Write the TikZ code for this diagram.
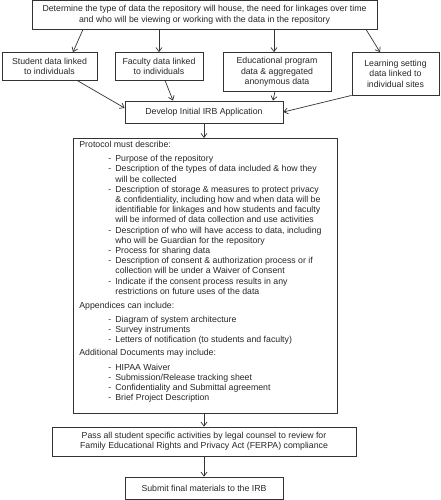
\documentclass[tikz,border=0pt]{standalone}
\usepackage{fontspec}
\setmainfont{Liberation Sans}
\usetikzlibrary{arrows.meta}
\newcommand\bitem[1]{\par\hangindent=36pt\hangafter=1\noindent\hspace*{29pt}\makebox[7pt][l]{-}#1}
\newcommand\phead[1]{\par\noindent #1}
\begin{document}
\begin{tikzpicture}[x=1pt,y=-1pt,
  box/.style={draw=black!80, line width=0.8pt, inner sep=0pt, align=center,
    font=\fontsize{8.75}{10.2}\selectfont, text=black!85},
  arr/.style={draw=black!80, line width=0.7pt, -{Straight Barb[length=4pt,width=6pt]}}]
\useasboundingbox (0,0) rectangle (440,500);
\node[box, minimum width=345pt, minimum height=28.5pt] (top) at (204.5,14.75)
  {Determine the type of data the repository will house, the need for linkages over time\\and who will be viewing or working with the data in the repository};
\node[box, minimum width=95pt, minimum height=27.5pt] (student) at (49.5,66.25)
  {Student data linked\\to individuals};
\node[box, minimum width=88pt, minimum height=27.5pt] (faculty) at (159,66.25)
  {Faculty data linked\\to individuals};
\node[box, minimum width=108pt, minimum height=38.5pt] (edu) at (277,71.75)
  {Educational program\\data \& aggregated\\anonymous data};
\node[box, minimum width=87pt, minimum height=42.5pt] (learn) at (395.5,73.75)
  {Learning setting\\data linked to\\individual sites};
\node[box, minimum width=158pt, minimum height=22pt] (develop) at (204,112)
  {Develop Initial IRB Application};
\node[box, align=left, anchor=north west, inner xsep=6pt, inner ysep=3pt,
  minimum width=264pt, minimum height=275pt] (protocol) at (73,138)
  {\parbox[c][269pt][t]{252pt}{\raggedright\fontsize{8.75}{10.2}\selectfont
  \phead{Protocol must describe:}\vspace{3.8pt}
  \bitem{Purpose of the repository}
  \bitem{Description of the types of data included \& how they\newline will be collected}
  \bitem{Description of storage \& measures to protect privacy\newline \& confidentiality, including how and when data will be\newline identifiable for linkages and how students and faculty\newline will be informed of data collection and use activities}
  \bitem{Description of who will have access to data, including\newline who will be Guardian for the repository}
  \bitem{Process for sharing data}
  \bitem{Description of consent \& authorization process or if\newline collection will be under a Waiver of Consent}
  \bitem{Indicate if the consent process results in any\newline restrictions on future uses of the data}
  \par\vspace{3.8pt}
  \phead{Appendices can include:}\vspace{3.8pt}
  \bitem{Diagram of system architecture}
  \bitem{Survey instruments}
  \bitem{Letters of notification (to students and faculty)}
  \par\vspace{2.5pt}
  \phead{Additional Documents may include:}\vspace{4.5pt}
  \bitem{HIPAA Waiver}
  \bitem{Submission/Release tracking sheet}
  \bitem{Confidentiality and Submittal agreement}
  \bitem{Brief Project Description}\par}};
\node[box, minimum width=304pt, minimum height=29pt] (pass) at (204,441.5)
  {Pass all student specific activities by legal counsel to review for\\Family Educational Rights and Privacy Act (FERPA) compliance};
\node[box, minimum width=158pt, minimum height=22pt] (submit) at (204,488)
  {Submit final materials to the IRB};
\draw[arr] ([xshift=-121.5pt]top.south) -- ([xshift=23.5pt]student.north);
\draw[arr] ([xshift=-45.5pt]top.south) -- (faculty.north);
\draw[arr] ([xshift=69.5pt]top.south) -- ([xshift=-3pt]edu.north);
\draw[arr] ([xshift=161.5pt]top.south) -- ([xshift=-15.5pt]learn.north);
\draw[arr] ([xshift=27.5pt]student.south) -- ([yshift=4pt]develop.west);
\draw[arr] ([xshift=6pt]faculty.south) -- ([xshift=-31pt]develop.north);
\draw[arr] ([xshift=-2pt]edu.south) -- ([xshift=69pt]develop.north);
\draw[arr] (learn.south west) -- (develop.east);
\draw[arr] (develop.south) -- (develop.south |- protocol.north);
\draw[arr] (protocol.south -| pass.north) -- (pass.north);
\draw[arr] (pass.south) -- (submit.north);
\end{tikzpicture}
\end{document}
